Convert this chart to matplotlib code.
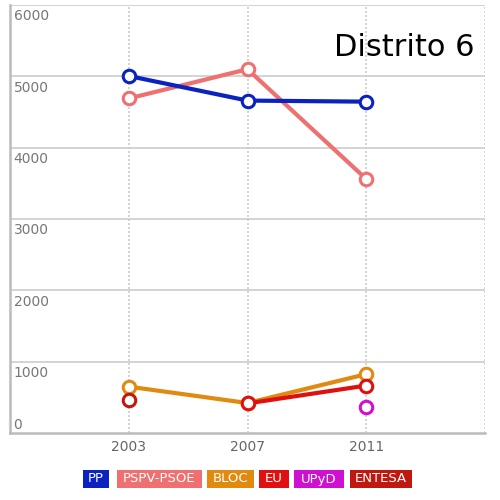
import numpy as np
import matplotlib
matplotlib.use("Agg")
import matplotlib.pyplot as plt
from matplotlib.patches import Rectangle

# datos
years = [2003, 2007, 2011]
pp = [5005, 4660, 4645]
pspv = [4690, 5100, 3560]
bloc = [650, 420, 825]
eu = [np.nan, 415, 665]
upyd = [np.nan, np.nan, 370]
entesa = [465, np.nan, np.nan]

parties = ['PP', 'PSPV-PSOE', 'BLOC', 'EU', 'UPyD', 'ENTESA']
colors = ['#0a22bf', '#ee7070', '#e08a10', '#e01010', '#d010d0', '#c0180f']
series = [pp, pspv, bloc, eu, upyd, entesa]
y_ticks = [0, 1000, 2000, 3000, 4000, 5000, 6000]

fig = plt.figure(figsize=(5, 5), dpi=100)
ax = fig.add_axes([0.02, 0.134, 0.95, 0.856])

# lineas de rejilla
for v in y_ticks[1:]:
    ax.axhline(v, color='#cccccc', lw=1.2, zorder=0)
for yr in years + [2015]:
    ax.axvline(yr, color='#cccccc', lw=1.2, ls=(0, (1.2, 1.2)), zorder=0)

# series (orden de dibujo: las pequenas abajo)
order = [2, 5, 3, 4, 1, 0]
for i in order:
    ax.plot(years, series[i], color=colors[i], lw=3, marker='o', ms=9,
            mfc='white', mec=colors[i], mew=2.2, zorder=3, clip_on=False)

ax.set_xlim(1999, 2015)
ax.set_ylim(0, 6000)
ax.set_xticks(years)
ax.set_xticklabels([str(y) for y in years], color='#666666', fontsize=10)
ax.tick_params(axis='x', length=0, pad=5)
ax.set_yticks([])

for s in ['top', 'right']:
    ax.spines[s].set_visible(False)
for s in ['left', 'bottom']:
    ax.spines[s].set_color('#bbbbbb')
    ax.spines[s].set_linewidth(1.8)

# etiquetas del eje y dentro del grafico
for v in y_ticks:
    off = 110 if v == 0 else -160
    ax.text(1999.12, v + off, str(v), color='#777777', fontsize=10,
            ha='left', va='center')

ax.text(0.977, 0.9, 'Distrito 6', transform=ax.transAxes, fontsize=22,
        ha='right', va='center', color='black')

# leyenda en cajas (posiciones en pixeles)
box_x = [(83, 109), (117, 202), (207, 254), (259, 289), (294, 344), (350, 412)]
y0, y1 = 470, 488
for name, c, (xa, xb) in zip(parties, colors, box_x):
    fig.patches.append(Rectangle((xa / 500, 1 - y1 / 500), (xb - xa) / 500,
                                 (y1 - y0) / 500, transform=fig.transFigure,
                                 fc=c, ec='none'))
    fig.text((xa + xb) / 1000, 1 - (y0 + y1) / 1000, name, color='white',
             fontsize=9.5, ha='center', va='center')

fig.savefig('out.png', dpi=100)
